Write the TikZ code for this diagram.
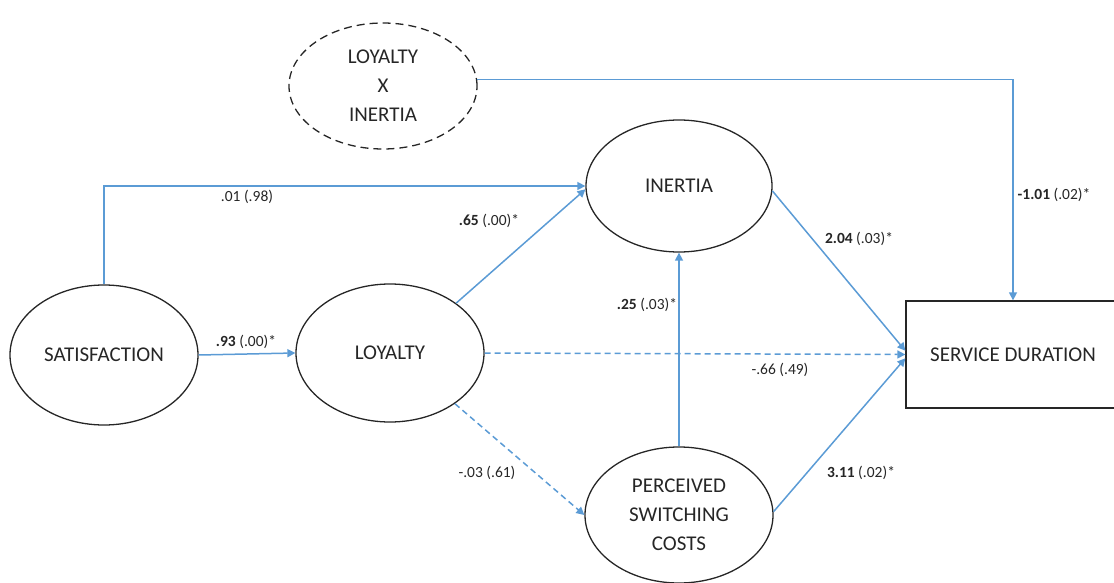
\documentclass[tikz,border=0pt]{standalone}
\usepackage{fontspec}
\setmainfont{Carlito}
\usetikzlibrary{arrows.meta,calc,shapes.geometric}
\definecolor{pathblue}{HTML}{5B9BD5}
\definecolor{ink}{HTML}{262626}
\begin{document}
\begin{tikzpicture}[x=1pt,y=-1pt,
  latent/.style={draw=black!85,line width=1.3pt,ellipse,inner sep=0pt,align=center,text=ink,font=\fontsize{21}{29}\selectfont},
  pathline/.style={draw=pathblue,line width=1.5pt,-{Triangle[width=8pt,length=8pt]}},
  npathline/.style={pathline,dash pattern=on 6pt off 4pt},
  coef/.style={font=\fontsize{15.5}{17}\selectfont,text=ink,inner sep=0pt}]
\useasboundingbox (0,0) rectangle (1114,583);
\clip (0,0) rectangle (1114,583);
\node[latent,dashed,dash pattern=on 8pt off 5pt,minimum width=188pt,minimum height=126pt] (lxi) at (383,86) {LOYALTY\\X\\INERTIA};
\node[latent,minimum width=186pt,minimum height=132pt] (ine) at (679,186) {INERTIA};
\node[latent,minimum width=188pt,minimum height=140pt] (sat) at (104,355) {SATISFACTION};
\node[latent,minimum width=188pt,minimum height=138pt] (loy) at (390,353) {LOYALTY};
\node[latent,minimum width=188pt,minimum height=136pt] (psc) at (679,515) {PERCEIVED\\SWITCHING\\COSTS};
\node[draw=black!85,line width=1.3pt,minimum width=214pt,minimum height=107pt,inner sep=0pt,text=ink,font=\fontsize{21}{24}\selectfont] (box) at (1013,354.5) {SERVICE DURATION};

\draw[pathline] (lxi.4) -| (box.north);
\draw[pathline] (sat.north) |- (ine.west);
\draw[pathline] (sat.east) -- (loy.west);
\draw[pathline] (loy.37) -- (ine.182);
\draw[npathline] (loy.east) -- (box.west);
\draw[npathline] (loy.-38) -- (psc.west);
\draw[pathline] (psc.north) -- (ine.south);
\draw[pathline] (ine.-3) -- (box.178);
\draw[pathline] (psc.2) -- (box.182);

\node[coef] (c1) at (247,197) {.01 (.98)};
\node[coef] (c2) at (246,342) {\textbf{.93} (.00)*};
\node[coef] (c3) at (489,221) {\textbf{.65} (.00)*};
\node[coef] (c4) at (647,305) {\textbf{.25} (.03)*};
\node[coef] (c5) at (780,370) {-.66 (.49)};
\node[coef] (c6) at (487,473) {-.03 (.61)};
\node[coef] (c7) at (859,239) {\textbf{2.04} (.03)*};
\node[coef] (c8) at (861,473) {\textbf{3.11} (.02)*};
\node[coef] (c9) at (1054,195) {\textbf{-1.01} (.02)*};
\end{tikzpicture}
\end{document}
